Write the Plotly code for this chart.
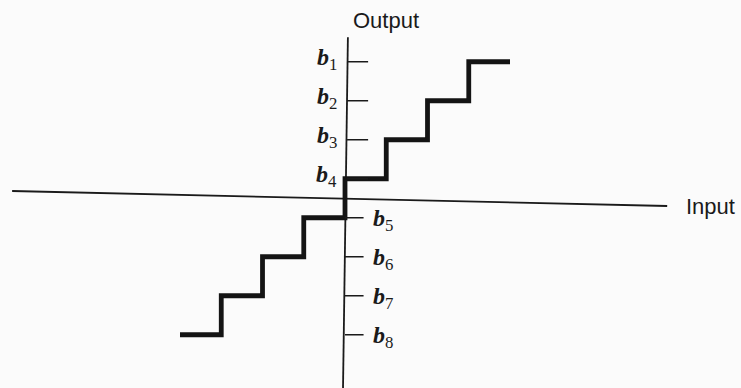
import plotly.graph_objects as go

# Quantizer data (input thresholds and output levels)
input_points = [-4, -3, -2, -1, 0, 1, 2, 3, 4]
output_levels = [-3.5, -2.5, -1.5, -0.5, 0.5, 1.5, 2.5, 3.5, 3.5]

level_values = [3.5, 2.5, 1.5, 0.5, -0.5, -1.5, -2.5, -3.5]
level_names = ["1", "2", "3", "4", "5", "6", "7", "8"]

fig = go.Figure()

fig.add_trace(go.Scatter(
    x=input_points, y=output_levels, mode="lines",
    line=dict(shape="hv", color="#141414", width=4.8),
    hoverinfo="skip", showlegend=False,
))

ink = "#1a1a1a"
shapes = []
# horizontal (Input) axis, slightly skewed as in the scan
shapes.append(dict(type="line", x0=-8.07, y0=0.186, x1=7.81, y1=-0.199,
                   line=dict(color=ink, width=1.8), layer="below"))
# vertical (Output) axis
shapes.append(dict(type="line", x0=0.07, y0=4.13, x1=-0.05, y1=-5.0,
                   line=dict(color=ink, width=1.8), layer="below"))

annotations = []
for v, n in zip(level_values, level_names):
    if v > 0:
        shapes.append(dict(type="line", x0=0.05, y0=v, x1=0.56, y1=v,
                           line=dict(color=ink, width=1.5)))
        annotations.append(dict(x=-0.15, y=v + 0.06, xref="x", yref="y",
                                text=f"<i><b>b</b></i><sub>{n}</sub>", showarrow=False,
                                xanchor="right", yanchor="middle",
                                font=dict(family="Liberation Serif", size=24, color=ink)))
    else:
        shapes.append(dict(type="line", x0=0.0, y0=v, x1=0.45, y1=v,
                           line=dict(color=ink, width=1.5)))
        annotations.append(dict(x=0.63, y=v - 0.05, xref="x", yref="y",
                                text=f"<i><b>b</b></i><sub>{n}</sub>", showarrow=False,
                                xanchor="left", yanchor="middle",
                                font=dict(family="Liberation Serif", size=24, color=ink)))

annotations.append(dict(x=1.0, y=4.57, xref="x", yref="y", text="Output",
                        showarrow=False, xanchor="center", yanchor="middle",
                        font=dict(family="Liberation Sans", size=22, color=ink)))
annotations.append(dict(x=8.86, y=-0.22, xref="x", yref="y", text="Input",
                        showarrow=False, xanchor="center", yanchor="middle",
                        font=dict(family="Liberation Sans", size=22, color=ink)))

fig.update_layout(
    width=741, height=388,
    margin=dict(l=0, r=0, t=0, b=0),
    paper_bgcolor="#fbfbfb", plot_bgcolor="#fbfbfb",
    xaxis=dict(range=[-8.364, 9.6], visible=False, fixedrange=True),
    yaxis=dict(range=[-4.865, 5.083], visible=False, fixedrange=True),
    shapes=shapes, annotations=annotations,
    showlegend=False,
)

fig.write_html("out.html", config={"displayModeBar": False},
               post_script="document.body.style.margin='0';document.body.style.background='#fbfbfb';")
